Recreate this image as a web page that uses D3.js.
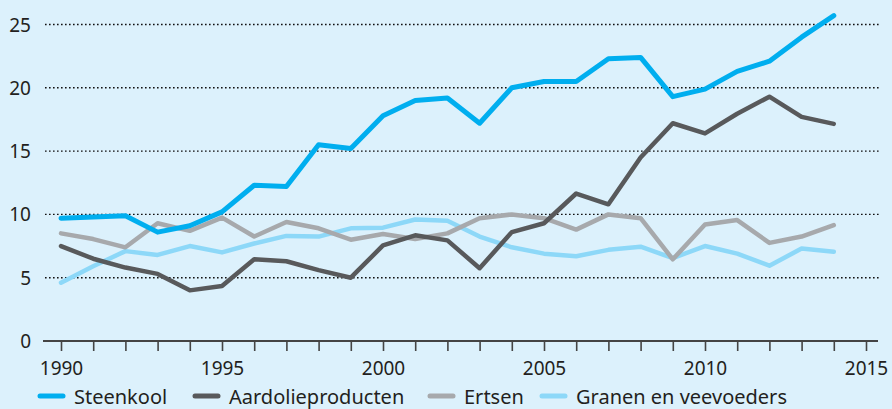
<!DOCTYPE html>
<html>
<head>
<meta charset="utf-8">
<script src="https://cdn.jsdelivr.net/npm/d3@7"></script>
<style>
  body { margin: 0; background: #dcf1fc; }
  svg { display: block; font-family: 'Noto Sans', sans-serif; }
</style>
</head>
<body>
<script>
const width = 892;
const height = 409;

const years = d3.range(1990, 2015);
const steenkool = [9.7, 9.8, 9.9, 8.6, 9.1, 10.2, 12.3, 12.2, 15.5, 15.2, 17.8, 19.0, 19.2, 17.2, 20.0, 20.5, 20.5, 22.3, 22.4, 19.3, 19.9, 21.3, 22.1, 24.0, 25.7];
const aardolie = [7.5, 6.5, 5.8, 5.3, 4.0, 4.35, 6.45, 6.3, 5.6, 5.0, 7.55, 8.35, 7.95, 5.75, 8.6, 9.3, 11.65, 10.8, 14.5, 17.2, 16.4, 17.95, 19.3, 17.7, 17.15];
const ertsen = [8.5, 8.05, 7.4, 9.3, 8.7, 9.75, 8.25, 9.4, 8.9, 8.0, 8.45, 8.05, 8.5, 9.7, 10.0, 9.7, 8.8, 10.0, 9.7, 6.45, 9.2, 9.55, 7.75, 8.25, 9.15];
const granen = [4.6, 5.9, 7.1, 6.8, 7.5, 7.0, 7.7, 8.3, 8.25, 8.9, 8.95, 9.6, 9.5, 8.25, 7.4, 6.9, 6.7, 7.2, 7.45, 6.55, 7.5, 6.9, 5.95, 7.3, 7.05];

const seriesNames = ['Steenkool', 'Aardolieproducten', 'Ertsen', 'Granen en veevoeders'];
const seriesColors = ['#00aeef', '#58595b', '#a7a9ac', '#8dd8f8'];
const yTicks = [0, 5, 10, 15, 20, 25];

const series = [
  { name: seriesNames[0], values: steenkool, color: seriesColors[0] },
  { name: seriesNames[1], values: aardolie, color: seriesColors[1] },
  { name: seriesNames[2], values: ertsen, color: seriesColors[2] },
  { name: seriesNames[3], values: granen, color: seriesColors[3] },
];

const svg = d3.select('body').append('svg').attr('width', width).attr('height', height);

const x = d3.scaleLinear().domain([1990, 2015]).range([61, 866]);
const y = d3.scaleLinear().domain([0, 25]).range([341, 24.5]);

// gridlines
svg.append('g')
  .selectAll('line')
  .data(yTicks.filter(d => d > 0))
  .enter()
  .append('line')
  .attr('x1', 45)
  .attr('x2', 880)
  .attr('y1', d => y(d))
  .attr('y2', d => y(d))
  .attr('stroke', '#111')
  .attr('stroke-width', 1.4)
  .attr('stroke-dasharray', '1.6,2.4');

// y labels
svg.append('g')
  .selectAll('text')
  .data(yTicks)
  .enter()
  .append('text')
  .attr('x', 31)
  .attr('y', d => y(d) + 7)
  .attr('text-anchor', 'end')
  .attr('font-size', 19)
  .attr('fill', '#231f20')
  .text(d => d);

// x axis
const xAxis = d3.axisBottom(x)
  .tickValues(d3.range(1990, 2016))
  .tickSize(10)
  .tickPadding(11)
  .tickFormat(d => (d % 5 === 0 ? d : ''));

const gx = svg.append('g').attr('transform', `translate(0, ${y(0)})`).call(xAxis);
gx.select('.domain').attr('d', 'M43,0H878').attr('stroke', '#444').attr('stroke-width', 2);
gx.selectAll('.tick line').attr('stroke', '#444').attr('stroke-width', 1.6);
gx.selectAll('.tick text')
  .attr('font-size', 19)
  .attr('font-family', "'Noto Sans', sans-serif")
  .attr('fill', '#231f20');

// lines
const line = d3.line()
  .x((d, i) => x(years[i]))
  .y(d => y(d));

svg.append('g')
  .selectAll('path')
  .data(series.slice().reverse())
  .enter()
  .append('path')
  .attr('d', d => line(d.values))
  .attr('fill', 'none')
  .attr('stroke', d => d.color)
  .attr('stroke-width', d => (d.name === 'Steenkool' ? 5 : 4.5))
  .attr('stroke-linejoin', 'round')
  .attr('stroke-linecap', 'round');

// legend
const legendX = [38, 193, 428, 540];
const legend = svg.append('g')
  .selectAll('g')
  .data(series)
  .enter()
  .append('g')
  .attr('transform', (d, i) => `translate(${legendX[i]}, 396)`);

legend.append('line')
  .attr('x1', 2)
  .attr('x2', 25)
  .attr('stroke', d => d.color)
  .attr('stroke-width', 5)
  .attr('stroke-linecap', 'round');

legend.append('text')
  .attr('x', 36)
  .attr('y', 7.5)
  .attr('font-size', 20)
  .attr('fill', '#231f20')
  .text(d => d.name);
</script>
</body>
</html>
